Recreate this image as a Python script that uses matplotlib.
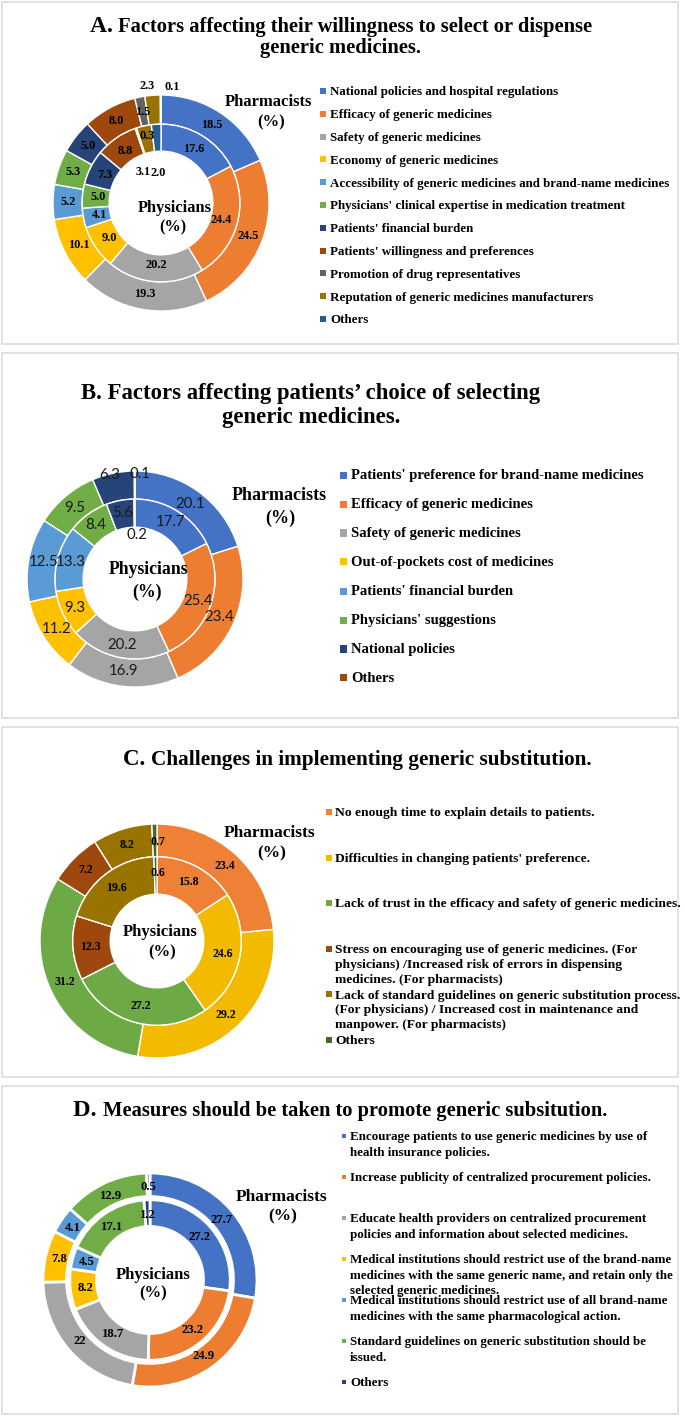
import numpy as np
import matplotlib
matplotlib.use("Agg")
import matplotlib.pyplot as plt
from matplotlib.patches import Rectangle

# ---------------- data ----------------
a_labels = ["National policies and hospital regulations", "Efficacy of generic medicines",
            "Safety of generic medicines", "Economy of generic medicines",
            "Accessibility of generic medicines and brand-name medicines",
            "Physicians' clinical expertise in medication treatment", "Patients' financial burden",
            "Patients' willingness and preferences", "Promotion of drug representatives",
            "Reputation of generic medicines manufacturers", "Others"]
a_pharm = [18.5, 24.5, 19.3, 10.1, 5.2, 5.3, 5.0, 8.0, 1.5, 2.3, 0.1]
a_phys = [17.6, 24.4, 20.2, 9.0, 4.1, 5.0, 7.3, 8.8, 0.3, 3.1, 2.0]

b_labels = ["Patients' preference for brand-name medicines", "Efficacy of generic medicines",
            "Safety of generic medicines", "Out-of-pockets cost of medicines",
            "Patients' financial burden", "Physicians' suggestions", "National policies", "Others"]
b_pharm = [20.1, 23.4, 16.9, 11.2, 12.5, 9.5, 6.3, 0.1]
b_phys = [17.7, 25.4, 20.2, 9.3, 13.3, 8.4, 5.6, 0.2]

c_labels = ["No enough time to explain details to patients.",
            "Difficulties in changing patients' preference.",
            "Lack of trust in the efficacy and safety of generic medicines.",
            "Stress on encouraging use of generic medicines. (For\nphysicians) /Increased risk of errors in dispensing\nmedicines. (For pharmacists)",
            "Lack of standard guidelines on generic substitution process.\n(For physicians) / Increased cost in maintenance and\nmanpower. (For pharmacists)",
            "Others"]
c_pharm = [23.4, 29.2, 31.2, 7.2, 8.2, 0.7]
c_phys = [15.8, 24.6, 27.2, 12.3, 19.6, 0.6]

d_labels = ["Encourage patients to use generic medicines by use of\nhealth insurance policies.",
            "Increase publicity of centralized procurement policies.",
            "Educate health providers on centralized procurement\npolicies and information about selected medicines.",
            "Medical institutions should restrict use of the brand-name\nmedicines with the same generic name, and retain only the\nselected generic medicines.",
            "Medical institutions should restrict use of all brand-name\nmedicines with the same pharmacological action.",
            "Standard guidelines on generic substitution should be\nissued.",
            "Others"]
d_pharm = [27.7, 24.9, 22, 7.8, 4.1, 12.9, 0.5]
d_phys = [27.2, 23.2, 18.7, 8.2, 4.5, 17.1, 1.2]
d_pharm_text = ["27.7", "24.9", "22", "7.8", "4.1", "12.9", "0.5"]

# ---------------- style ----------------
office = ["#4472C4", "#ED7D31", "#A5A5A5", "#FFC000", "#5B9BD5", "#70AD47",
          "#264478", "#9E480E", "#636363", "#997300", "#255E91"]
c_colors = ["#EE8135", "#F2BA00", "#6DAA45", "#9E480E", "#997300", "#43682B"]
SERIF = "Liberation Serif"
SANS = "Lato"

W, H = 685, 1417
fig = plt.figure(figsize=(W / 100, H / 100), dpi=100)
renderer = fig.canvas.get_renderer()


def fx(x):
    return x / W


def fy(y):
    return 1 - y / H


def box(y0, y1):
    fig.add_artist(Rectangle((fx(2), fy(y1)), fx(676), (y1 - y0) / H, transform=fig.transFigure,
                             fill=False, edgecolor="#dcdcdc", lw=1.2))


def ftext(x, y, s, size, family=SERIF, weight="bold", ha="center"):
    fig.text(fx(x), fy(y), s, fontsize=size, family=family, weight=weight,
             ha=ha, va="center")


def title(x, y, prefix, rest, s_prefix, s_rest):
    # panel letter is set a little larger than the rest of the heading
    t1 = fig.text(0, 0, prefix + " ", fontsize=s_prefix, family=SERIF, weight="bold",
                  ha="left", va="baseline")
    t2 = fig.text(0, 0, rest, fontsize=s_rest, family=SERIF, weight="bold",
                  ha="left", va="baseline")
    w1 = t1.get_window_extent(renderer).width
    w2 = t2.get_window_extent(renderer).width
    left = x - (w1 + w2) / 2
    base = y + 0.36 * s_rest * 100 / 72
    t1.set_position((fx(left), fy(base)))
    t2.set_position((fx(left + w1), fy(base)))


def donut(cx, cy, R, pharm, phys, colors, rings, lw, fsize, family=SERIF, weight="bold",
          tcolor="black", texts=None, override=None):
    ax = fig.add_axes([fx(cx - R), fy(cy + R), 2 * R / W, 2 * R / H])
    override = override or {}
    (r_out, w_out, lr_out), (r_in, w_in, lr_in) = rings
    for ring, (vals, r, w, lr) in enumerate([(pharm, r_out, w_out, lr_out),
                                             (phys, r_in, w_in, lr_in)]):
        wedges, _ = ax.pie(vals, radius=r, colors=colors, startangle=90, counterclock=False,
                           wedgeprops=dict(width=w, edgecolor="white", linewidth=lw))
        for i, wd in enumerate(wedges):
            th = np.deg2rad((wd.theta1 + wd.theta2) / 2)
            rr = lr
            if (ring, i) in override:
                rr, clock = override[(ring, i)]
                th = np.deg2rad(90 - clock)
            s = texts[i] if (texts is not None and ring == 0) else f"{vals[i]:.1f}"
            ax.text(rr * np.cos(th), rr * np.sin(th), s, ha="center", va="center",
                    fontsize=fsize, family=family, weight=weight, color=tcolor)
    ax.set_xlim(-1, 1)
    ax.set_ylim(-1, 1)
    ax.set_aspect("equal", adjustable="box")
    ax.axis("off")
    return ax


def legend(labels, colors, mx, msz, tx, y0, step, size, lspace):
    for i, (lab, col) in enumerate(zip(labels, colors)):
        y = y0 + i * step
        fig.add_artist(Rectangle((fx(mx), fy(y + msz / 2)), msz / W, msz / H,
                                 transform=fig.transFigure, color=col, lw=0))
        fig.text(fx(tx), fy(y - 0.62 * size * 100 / 72 + 3.5), lab, fontsize=size,
                 family=SERIF, weight="bold", ha="left", va="top", linespacing=lspace)


# ---------------- panel A ----------------
box(2, 344)
title(341, 25, "A.", "Factors affecting their willingness to select or dispense", 17, 14.8)
ftext(341, 48, "generic medicines.", 14.8)
donut(161, 203, 108, a_pharm, a_phys, office,
      [(1.0, 0.27, 0.86), (0.73, 0.25, 0.58)], 1.0, 8.8,
      override={(0, 9): (1.09, -7), (0, 10): (1.08, 5.5),
                (1, 8): (0.63, -12), (1, 9): (0.33, -31), (1, 10): (0.28, -6)})
ftext(268, 102, "Pharmacists", 12)
ftext(271, 122, "(%)", 12)
ftext(175, 208, "Physicians", 11.8)
ftext(173, 227, "(%)", 11.8)
legend(a_labels, office, 320, 6, 330, 91, 22.8, 9.4, 1.2)

# ---------------- panel B ----------------
box(353, 718)
ftext(311, 393, "B. Factors affecting patients\u2019 choice of selecting", 16.4)
ftext(311, 418, "generic medicines.", 16.4)
donut(135, 579, 108, b_pharm, b_phys, office[:8],
      [(1.0, 0.26, 0.86), (0.74, 0.26, 0.62)], 1.0, 10.8, family=SANS, weight="normal",
      tcolor="#1a1a1a",
      override={(0, 6): (0.99, -13.5), (0, 7): (0.97, 3), (1, 7): (0.41, 3)})
ftext(279, 496, "Pharmacists", 13)
ftext(280, 518, "(%)", 13)
ftext(148, 570, "Physicians", 12.8)
ftext(147, 592, "(%)", 12.8)
legend(b_labels, office[:8], 340, 7, 351, 475, 29, 10.5, 1.2)

# ---------------- panel C ----------------
box(727, 1077)
title(357, 757, "C.", "Challenges in implementing generic substitution.", 16.5, 15.3)
donut(157, 941, 117, c_pharm, c_phys, c_colors,
      [(1.0, 0.28, 0.86), (0.72, 0.32, 0.57)], 1.0, 8.6,
      override={(0, 5): (0.85, 0.6), (1, 5): (0.58, 0.6)})
ftext(270, 833, "Pharmacists", 12.5)
ftext(272, 853, "(%)", 12.5)
ftext(160, 932, "Physicians", 12)
ftext(162, 952, "(%)", 12)
legend(c_labels, c_colors, 326, 6, 335, 812, 45.6, 9.7, 1.32)

# ---------------- panel D ----------------
box(1086, 1414)
title(340, 1109, "D.", "Measures should be taken to promote generic subsitution.", 17.5, 14.8)
donut(150, 1280, 107, d_pharm, d_phys, office[:7],
      [(1.0, 0.22, 0.87), (0.75, 0.25, 0.61)], 2.0, 9.2, texts=d_pharm_text)
ftext(282, 1197, "Pharmacists", 12.5)
ftext(283, 1216, "(%)", 12.5)
ftext(153, 1275, "Physicians", 12)
ftext(153, 1293, "(%)", 12)
legend(d_labels, office[:7], 342, 3.5, 350, 1136, 41, 9.4, 1.35)

fig.savefig("out.png", dpi=100, facecolor="white")
